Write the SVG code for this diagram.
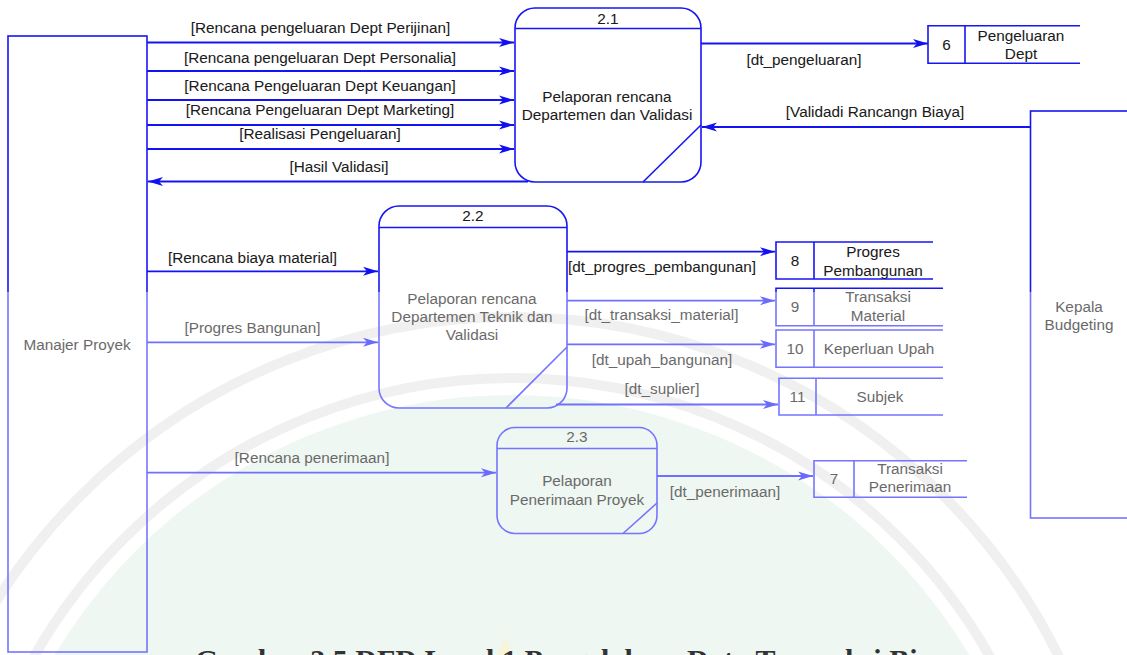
<svg xmlns="http://www.w3.org/2000/svg" width="1127" height="655" viewBox="0 0 1127 655">
  <defs>
    <!-- upper part of the sheet prints in deep blue/black, the lower part paler -->
    <linearGradient id="ink" gradientUnits="userSpaceOnUse" x1="0" y1="0" x2="0" y2="655">
      <stop offset="0" stop-color="#1616f2"/>
      <stop offset="0.446" stop-color="#1616f2"/>
      <stop offset="0.446" stop-color="#7474ff"/>
      <stop offset="1" stop-color="#7474ff"/>
    </linearGradient>
    <linearGradient id="inkText" gradientUnits="userSpaceOnUse" x1="0" y1="0" x2="0" y2="655">
      <stop offset="0" stop-color="#1c1c1c"/>
      <stop offset="0.446" stop-color="#1c1c1c"/>
      <stop offset="0.446" stop-color="#686868"/>
      <stop offset="1" stop-color="#686868"/>
    </linearGradient>
    <marker id="arrowDark" markerUnits="userSpaceOnUse" markerWidth="16" markerHeight="10" refX="15" refY="5" orient="auto">
      <path d="M0,0.5 L15,5 L0,9.5 L4,5 Z" fill="#1010f0"/>
    </marker>
    <marker id="arrowLight" markerUnits="userSpaceOnUse" markerWidth="16" markerHeight="10" refX="15" refY="5" orient="auto">
      <path d="M0,0.5 L15,5 L0,9.5 L4,5 Z" fill="#6a6aff"/>
    </marker>
    <style>
      text { font-family: "Liberation Sans", Arial, sans-serif; font-size: 15.3px; fill: url(#inkText); text-anchor: middle; }
      .box { fill: none; stroke: url(#ink); stroke-width: 1.6; }
      .flow { fill: none; stroke-width: 1.8; }
      .dark { stroke: #1414f2; marker-end: url(#arrowDark); }
      .light { stroke: #7070ff; marker-end: url(#arrowLight); }
      .wm-ring { fill: none; stroke: #f0f0f0; stroke-width: 10; }
      .caption { font-family: "Liberation Serif", "Times New Roman", serif; font-size: 30px; font-weight: bold; fill: #333333; text-anchor: start; }
    </style>
  </defs>

  <rect width="1127" height="655" fill="#ffffff"/>

  <!-- faint seal printed behind the diagram -->
  <g id="watermark">
    <circle cx="512" cy="927" r="532" fill="#eef7f1"/>
    <circle cx="512" cy="927" r="549" class="wm-ring"/>
    <circle cx="512" cy="927" r="610" class="wm-ring"/>
    <polygon points="497,655 505,636 513,655" fill="#f7f4da"/>
  </g>

  <!-- external entities -->
  <g id="manajer-proyek">
    <rect class="box" x="8" y="36" width="139" height="616"/>
    <text x="77" y="350">Manajer Proyek</text>
  </g>
  <g id="kepala-budgeting">
    <rect class="box" x="1030.5" y="111" width="100" height="407"/>
    <text x="1079" y="311.5">Kepala</text>
    <text x="1079" y="330">Budgeting</text>
  </g>

  <!-- processes -->
  <g id="process-2-1">
    <rect class="box" x="515" y="8" width="186" height="174" rx="20" ry="20"/>
    <line class="box" x1="515" y1="28.5" x2="701" y2="28.5"/>
    <line class="box" x1="643" y1="182" x2="701" y2="125"/>
    <text x="608" y="23.5">2.1</text>
    <text x="607" y="101.5">Pelaporan rencana</text>
    <text x="607" y="120">Departemen dan Validasi</text>
  </g>
  <g id="process-2-2">
    <rect class="box" x="379" y="206" width="188" height="202" rx="20" ry="20"/>
    <line class="box" x1="379" y1="227.5" x2="567" y2="227.5"/>
    <line class="box" x1="506" y1="408" x2="567" y2="347"/>
    <text x="473" y="221">2.2</text>
    <text x="472" y="304">Pelaporan rencana</text>
    <text x="472" y="322">Departemen Teknik dan</text>
    <text x="472" y="340">Validasi</text>
  </g>
  <g id="process-2-3">
    <rect class="box" x="497" y="427.5" width="160" height="106" rx="18" ry="18"/>
    <line class="box" x1="497" y1="448.5" x2="657" y2="448.5"/>
    <line class="box" x1="623" y1="533.5" x2="657" y2="503"/>
    <text x="577" y="442">2.3</text>
    <text x="577" y="486">Pelaporan</text>
    <text x="577" y="505">Penerimaan Proyek</text>
  </g>

  <!-- data stores -->
  <g id="store-6">
    <path class="box" d="M1080,25.7 H928 V63.3 H1080 M965,25.7 V63.3"/>
    <text x="946.5" y="49.5">6</text>
    <text x="1021" y="40.5">Pengeluaran</text>
    <text x="1021" y="59">Dept</text>
  </g>
  <g id="store-8">
    <path class="box" d="M933,242 H776 V279 H933 M814,242 V279"/>
    <text x="795" y="265.5">8</text>
    <text x="873" y="257">Progres</text>
    <text x="873" y="276">Pembangunan</text>
  </g>
  <g id="store-9">
    <path class="box" d="M943,288.3 H776 V325.7 H943 M814,288.3 V325.7"/>
    <text x="795" y="312">9</text>
    <text x="878" y="302">Transaksi</text>
    <text x="878" y="321">Material</text>
  </g>
  <g id="store-10">
    <path class="box" d="M943,330 H776 V367.3 H943 M814,330 V367.3"/>
    <text x="795" y="353.5">10</text>
    <text x="879" y="353.5">Keperluan Upah</text>
  </g>
  <g id="store-11">
    <path class="box" d="M943,378.3 H779 V415 H943 M816,378.3 V415"/>
    <text x="797.5" y="402">11</text>
    <text x="880" y="402">Subjek</text>
  </g>
  <g id="store-7">
    <path class="box" d="M967,460.7 H814 V497.3 H967 M854,460.7 V497.3"/>
    <text x="834" y="483.5">7</text>
    <text x="910" y="473.5">Transaksi</text>
    <text x="910" y="492">Penerimaan</text>
  </g>

  <!-- data flows -->
  <g id="connectors">
    <line class="flow dark" x1="147" y1="42.5" x2="514" y2="42.5"/>
    <line class="flow dark" x1="147" y1="71" x2="514" y2="71"/>
    <line class="flow dark" x1="147" y1="100" x2="514" y2="100"/>
    <line class="flow dark" x1="147" y1="125" x2="514" y2="125"/>
    <line class="flow dark" x1="147" y1="149" x2="514" y2="149"/>
    <line class="flow dark" x1="528" y1="181.5" x2="148" y2="181.5"/>
    <line class="flow dark" x1="701" y1="43.5" x2="928" y2="43.5"/>
    <line class="flow dark" x1="1030.5" y1="127" x2="702" y2="127"/>
    <line class="flow dark" x1="147" y1="271.3" x2="378" y2="271.3"/>
    <line class="flow light" x1="147" y1="342.3" x2="378" y2="342.3"/>
    <line class="flow dark" x1="567" y1="251.7" x2="775" y2="251.7"/>
    <line class="flow light" x1="567" y1="300.7" x2="775" y2="300.7"/>
    <line class="flow light" x1="567" y1="344.3" x2="775" y2="344.3"/>
    <line class="flow light" x1="556" y1="404.5" x2="778" y2="404.5"/>
    <line class="flow light" x1="147" y1="472.7" x2="496" y2="472.7"/>
    <line class="flow light" x1="657" y1="476" x2="813" y2="476"/>

    <text x="320.5" y="33">[Rencana pengeluaran Dept Perijinan]</text>
    <text x="320" y="62.7">[Rencana pengeluaran Dept Personalia]</text>
    <text x="320" y="91">[Rencana Pengeluaran Dept Keuangan]</text>
    <text x="320" y="115">[Rencana Pengeluaran Dept Marketing]</text>
    <text x="320" y="139">[Realisasi Pengeluaran]</text>
    <text x="339" y="172">[Hasil Validasi]</text>
    <text x="804" y="65">[dt_pengeluaran]</text>
    <text x="875" y="116.7">[Validadi Rancangn Biaya]</text>
    <text x="252.5" y="262.7">[Rencana biaya material]</text>
    <text x="252.5" y="333.3">[Progres Bangunan]</text>
    <text x="662" y="271.7">[dt_progres_pembangunan]</text>
    <text x="661.5" y="320">[dt_transaksi_material]</text>
    <text x="662" y="365">[dt_upah_bangunan]</text>
    <text x="662" y="394.3">[dt_suplier]</text>
    <text x="312" y="463.3">[Rencana penerimaan]</text>
    <text x="725" y="496.7">[dt_penerimaan]</text>
  </g>

  <!-- figure caption, cut by the lower edge of the page -->
  <text class="caption" x="195" y="670">Gambar 3.5 DFD Level 1 Pengelolaan Data Transaksi Biaya</text>
</svg>
